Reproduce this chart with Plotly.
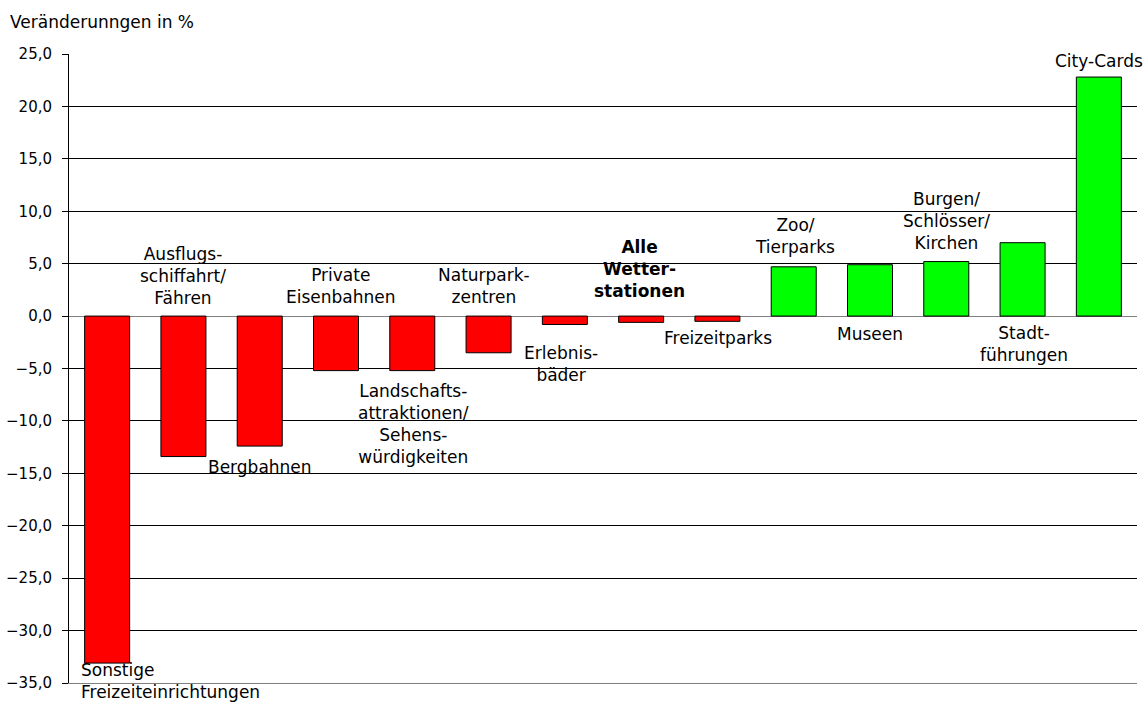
import plotly.graph_objects as go

categories = [
    "Sonstige<br>Freizeiteinrichtungen",
    "Ausflugs-<br>schiffahrt/<br>Fähren",
    "Bergbahnen",
    "Private<br>Eisenbahnen",
    "Landschafts-<br>attraktionen/<br>Sehens-<br>würdigkeiten",
    "Naturpark-<br>zentren",
    "Erlebnis-<br>bäder",
    "<b>Alle<br>Wetter-<br>stationen</b>",
    "Freizeitparks",
    "Zoo/<br>Tierparks",
    "Museen",
    "Burgen/<br>Schlösser/<br>Kirchen",
    "Stadt-<br>führungen",
    "City-Cards",
]
values = [-33.1, -13.4, -12.4, -5.2, -5.2, -3.5, -0.8, -0.6, -0.5, 4.7, 4.9, 5.2, 7.0, 22.8]
y_ticks = [-35, -30, -25, -20, -15, -10, -5, 0, 5, 10, 15, 20, 25]

# label placement (style only): anchor at bar end or zero line, side, pixel shifts, alignment
label_anchor = ["bar", "zero", "bar", "zero", "bar", "zero", "bar", "zero", "bar", "bar", "zero", "bar", "zero", "bar"]
label_side = ["below", "above", "below", "above", "below", "above", "below", "above", "below", "above", "below", "above", "below", "above"]
label_yshift = [5, 6, 9, 7, 8, 7, 17, 13, 5, 7.5, 6, 6.5, 5, 4]
label_xshift = [-28, 0, 0, 5, 1, -5, -4, -2, 1, 1, 0, 0, 1, 0]

FONT = "DejaVu Sans"

colors = ["#FF0000" if v < 0 else "#00FF00" for v in values]
xs = list(range(len(values)))

fig = go.Figure()
fig.add_trace(go.Bar(
    x=xs, y=values, width=0.59,
    marker=dict(color=colors, line=dict(color="black", width=1)),
    showlegend=False, hoverinfo="skip",
))

for i, (lab, v) in enumerate(zip(categories, values)):
    ay = v if label_anchor[i] == "bar" else 0
    above = label_side[i] == "above"
    left = i == 0
    fig.add_annotation(
        x=xs[i], y=ay, xref="x", yref="y", text=lab, showarrow=False,
        xanchor="left" if left else "center",
        align="left" if left else "center",
        yanchor="bottom" if above else "top",
        yshift=label_yshift[i] if above else (label_yshift[i] if left else -label_yshift[i]),
        xshift=label_xshift[i],
        font=dict(family=FONT, size=17, color="black"),
    )

fig.update_layout(
    width=1148, height=703,
    margin=dict(l=69, r=11, t=54, b=20, autoexpand=False),
    paper_bgcolor="white", plot_bgcolor="white",
    separators=",.",
    bargap=0.41,
    title=dict(text="Veränderunngen in %", x=10 / 1148, xanchor="left", xref="container",
               y=1 - 22 / 703, yanchor="middle", yref="container",
               font=dict(family=FONT, size=17, color="black")),
    font=dict(family=FONT, color="black"),
)
fig.update_xaxes(range=[-0.5, len(values) - 0.5], showticklabels=False, ticks="",
                 showgrid=False, zeroline=False, showline=True, linecolor="#808080", linewidth=1,
                 automargin=False)
fig.update_yaxes(range=[-35, 25], tickvals=y_ticks, tickformat=".1f",
                 showgrid=True, gridcolor="black", gridwidth=1,
                 zeroline=True, zerolinecolor="#808080", zerolinewidth=1,
                 showline=True, linecolor="black", linewidth=1,
                 ticks="outside", ticklen=6, tickcolor="black", ticklabelstandoff=7,
                 automargin=False,
                 tickfont=dict(family=FONT, size=15, color="black"))

fig.write_html("out.html")
